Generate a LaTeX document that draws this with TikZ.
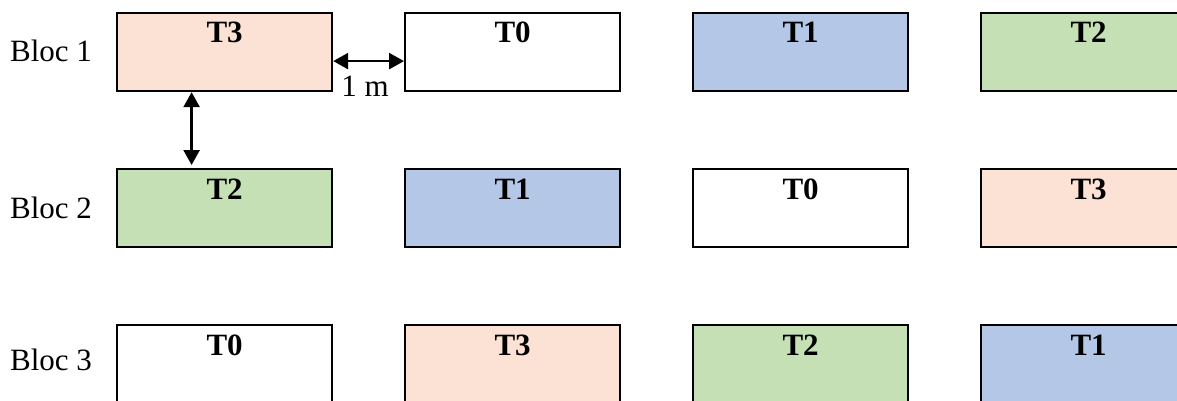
\documentclass[tikz,border=0pt]{standalone}
\usepackage{fontspec}
\setmainfont{Liberation Serif}
\usetikzlibrary{arrows.meta}
\definecolor{peach}{HTML}{FBE2D5}
\definecolor{lblue}{HTML}{B4C7E7}
\definecolor{lgreen}{HTML}{C5E0B4}
\tikzset{
  plot/.style={draw=black, line width=2.2pt, rectangle, minimum width=215pt, minimum height=78pt, anchor=north west, inner sep=0pt},
  tlab/.style={font=\fontsize{31}{36}\selectfont\bfseries, anchor=base, inner sep=0pt},
  bloc/.style={font=\fontsize{31}{36}\selectfont, anchor=base, inner sep=0pt},
  dim/.style={line width=2.6pt, {Triangle[length=15pt,width=16pt]}-{Triangle[length=15pt,width=16pt]}}
}
\begin{document}
\begin{tikzpicture}[x=1pt,y=-1pt]
\useasboundingbox (0,0) rectangle (1177,401);
\clip (0,0) rectangle (1177,401);
% row 1
\node[plot, fill=peach] (b11) at (116,12) {};
\node[plot, fill=white] (b12) at (404,12) {};
\node[plot, fill=lblue] (b13) at (692,12) {};
\node[plot, fill=lgreen] (b14) at (980,12) {};
% row 2
\node[plot, fill=lgreen] (b21) at (116,168) {};
\node[plot, fill=lblue] (b22) at (404,168) {};
\node[plot, fill=white] (b23) at (692,168) {};
\node[plot, fill=peach] (b24) at (980,168) {};
% row 3
\node[plot, fill=white] (b31) at (116,324) {};
\node[plot, fill=peach] (b32) at (404,324) {};
\node[plot, fill=lgreen] (b33) at (692,324) {};
\node[plot, fill=lblue] (b34) at (980,324) {};
% labels
\node[tlab] (l11) at ([yshift=-31pt]b11.north) {T3};
\node[tlab] (l12) at ([yshift=-31pt]b12.north) {T0};
\node[tlab] (l13) at ([yshift=-31pt]b13.north) {T1};
\node[tlab] (l14) at ([yshift=-31pt]b14.north) {T2};
\node[tlab] (l21) at ([yshift=-31pt]b21.north) {T2};
\node[tlab] (l22) at ([yshift=-31pt]b22.north) {T1};
\node[tlab] (l23) at ([yshift=-31pt]b23.north) {T0};
\node[tlab] (l24) at ([yshift=-31pt]b24.north) {T3};
\node[tlab] (l31) at ([yshift=-31pt]b31.north) {T0};
\node[tlab] (l32) at ([yshift=-31pt]b32.north) {T3};
\node[tlab] (l33) at ([yshift=-31pt]b33.north) {T2};
\node[tlab] (l34) at ([yshift=-31pt]b34.north) {T1};
% bloc labels
\node[bloc] (bl1) at (51,62) {Bloc 1};
\node[bloc] (bl2) at (51,218) {Bloc 2};
\node[bloc] (bl3) at (51,370) {Bloc 3};
% dimension arrows
\coordinate (h1) at ([yshift=-9pt]b11.east);
\coordinate (h2) at ([yshift=-9pt]b12.west);
\draw[dim] (h1) -- (h2);
\node[bloc] (dm) at (365,97) {1 m};
\coordinate (v1) at ([xshift=-33pt]b11.south);
\coordinate (v2) at ([xshift=-33pt,yshift=3pt]b21.north);
\draw[dim] (v1) -- (v2);
\end{tikzpicture}
\end{document}
